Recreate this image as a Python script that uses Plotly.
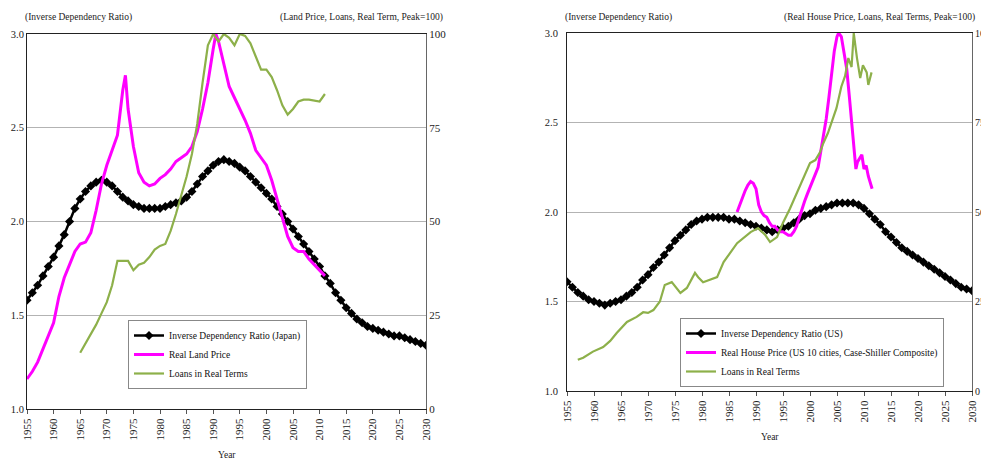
import plotly.graph_objects as go

FONT = "Liberation Serif, Times New Roman, serif"

# ---------------- Japan ----------------
jp_years = list(range(1955, 2031))
jp_idr = [1.58, 1.62, 1.66, 1.71, 1.76, 1.81, 1.87, 1.93, 2.00, 2.07,
          2.12, 2.16, 2.19, 2.21, 2.22, 2.21, 2.19, 2.16, 2.13, 2.11,
          2.09, 2.08, 2.07, 2.07, 2.07, 2.07, 2.08, 2.09, 2.10, 2.11,
          2.13, 2.16, 2.20, 2.24, 2.27, 2.30, 2.32, 2.33, 2.32, 2.31,
          2.29, 2.27, 2.24, 2.21, 2.18, 2.15, 2.12, 2.08, 2.04, 2.00,
          1.96, 1.92, 1.88, 1.84, 1.80, 1.76, 1.71, 1.67, 1.62, 1.58,
          1.54, 1.51, 1.48, 1.46, 1.44, 1.43, 1.42, 1.41, 1.40, 1.39,
          1.39, 1.38, 1.37, 1.36, 1.35, 1.34]

jp_land_years = [1955, 1956, 1957, 1958, 1959, 1960, 1961, 1962, 1963, 1964,
                 1965, 1966, 1967, 1968, 1969, 1970, 1971, 1972, 1973, 1973.5,
                 1974, 1975, 1976, 1977, 1978, 1979, 1980, 1981, 1982, 1983,
                 1984, 1985, 1986, 1987, 1988, 1989, 1990, 1990.5, 1991, 1992,
                 1993, 1994, 1995, 1996, 1997, 1998, 1999, 2000, 2001, 2002,
                 2003, 2004, 2005, 2006, 2007, 2008, 2009, 2010, 2011]
jp_land = [8, 10, 12.5, 16, 19.5, 23, 30, 35, 38.5, 42,
           44, 44.5, 47, 53, 60, 65, 69, 73, 85, 89,
           80, 70, 63, 60.5, 59.5, 60, 61.5, 62.5, 64, 66,
           67, 68, 70, 74, 80, 87, 96, 100, 98, 92,
           86, 83, 80, 77, 73.5, 69, 67, 65, 61, 56,
           51, 46, 43, 42, 42, 40, 38.5, 37, 35.5]

jp_loan_years = list(range(1965, 2012))
jp_loans = [15, 17.5, 20, 22.5, 25.5, 28.5, 33, 39.5, 39.5, 39.5,
            37, 38.5, 39, 40.5, 42.5, 43.5, 44, 47.5, 52, 57,
            62, 68, 76, 87, 97, 100, 98, 100, 99, 97,
            100, 99.5, 97.5, 94, 90.5, 90.5, 88.5, 85, 81, 78.5,
            80, 82, 82.5, 82.5, 82.3, 82, 84]

# ---------------- US ----------------
us_years = list(range(1955, 2031))
us_idr = [1.61, 1.58, 1.55, 1.53, 1.51, 1.50, 1.49, 1.48, 1.49, 1.50,
          1.51, 1.53, 1.55, 1.58, 1.62, 1.65, 1.69, 1.72, 1.76, 1.80,
          1.84, 1.87, 1.90, 1.93, 1.95, 1.96, 1.97, 1.97, 1.97, 1.97,
          1.96, 1.96, 1.95, 1.94, 1.93, 1.92, 1.91, 1.90, 1.89, 1.90,
          1.91, 1.92, 1.94, 1.96, 1.98, 1.99, 2.01, 2.02, 2.03, 2.04,
          2.05, 2.05, 2.05, 2.05, 2.04, 2.02, 1.99, 1.96, 1.93, 1.89,
          1.86, 1.83, 1.80, 1.78, 1.76, 1.74, 1.72, 1.70, 1.68, 1.66,
          1.64, 1.62, 1.60, 1.58, 1.57, 1.56]

us_house_years = [1986.5, 1987, 1987.5, 1988, 1988.5, 1989, 1989.5, 1990, 1990.5, 1991,
                  1991.5, 1992, 1992.5, 1993, 1993.5, 1994, 1994.5, 1995, 1995.5, 1996,
                  1996.5, 1997, 1997.5, 1998, 1998.5, 1999, 1999.5, 2000, 2000.5, 2001,
                  2001.5, 2002, 2002.5, 2003, 2003.5, 2004, 2004.5, 2005, 2005.3, 2005.8,
                  2006.3, 2006.8, 2007.3, 2007.8, 2008.2, 2008.5, 2008.8, 2009.2, 2009.6, 2010,
                  2010.4, 2010.8, 2011.2, 2011.5]
us_house = [50, 52, 54.5, 56, 57.5, 58.5, 58, 56.5, 52, 50,
            49, 48.5, 47, 46, 46, 45, 44.5, 44.5, 44, 43.5,
            43.5, 44.5, 46, 48.5, 51, 53, 55, 57, 59, 61,
            62.5, 67, 71, 76, 82, 88, 95, 99, 100, 99,
            95, 90, 82, 74, 66, 62, 64, 65, 66, 62,
            63, 60, 58, 56.5]

us_loan_years = [1957, 1958, 1959.8, 1961.7, 1963, 1964.2, 1966.1, 1967.9, 1969.1, 1970,
                 1971, 1972.2, 1973.1, 1974.4, 1976, 1977.2, 1978.7, 1979.3, 1980.2, 1982.8,
                 1984, 1986.5, 1989, 1990.4, 1991.7, 1992.6, 1993.9, 1995, 1996.3, 1998.2,
                 2000, 2001, 2001.9, 2002.4, 2003.3, 2004.9, 2005.8, 2006.5, 2007.1, 2007.7,
                 2008.1, 2008.7, 2009.3, 2009.8, 2010.5, 2010.8, 2011.4]
us_loans = [8.7, 9.3, 11, 12.3, 14, 16.2, 19.3, 20.7, 22, 21.8,
            22.6, 25, 29.6, 30.4, 27.4, 28.8, 33, 31.8, 30.4, 31.8,
            36, 41.3, 44.4, 45.5, 43.6, 41.6, 43, 47, 51, 57.5,
            63.7, 64.5, 66.8, 69, 72, 79, 85, 88, 93, 90.5,
            100, 93, 87.4, 91, 89, 85.5, 89]

x_ticks = list(range(1955, 2031, 5))

BLACK = "#000000"
MAGENTA = "#FF00FF"
GREEN = "#8DB04A"

fig = go.Figure()

def idr_trace(x, y, name, xa, ya, legend):
    return go.Scatter(x=x, y=y, name=name, xaxis=xa, yaxis=ya, legend=legend,
                      mode="lines+markers", line=dict(color=BLACK, width=2.5),
                      marker=dict(symbol="diamond", size=7, color=BLACK))

fig.add_trace(idr_trace(jp_years, jp_idr, "Inverse Dependency Ratio (Japan)", "x", "y", "legend"))
fig.add_trace(go.Scatter(x=jp_land_years, y=jp_land, name="Real Land Price", xaxis="x", yaxis="y2",
                         legend="legend", mode="lines", line=dict(color=MAGENTA, width=3)))
fig.add_trace(go.Scatter(x=jp_loan_years, y=jp_loans, name="Loans in Real Terms", xaxis="x", yaxis="y2",
                         legend="legend", mode="lines", line=dict(color=GREEN, width=2.2)))

fig.add_trace(idr_trace(us_years, us_idr, "Inverse Dependency Ratio (US)", "x2", "y3", "legend2"))
fig.add_trace(go.Scatter(x=us_house_years, y=us_house,
                         name="Real House Price (US 10 cities, Case-Shiller Composite)",
                         xaxis="x2", yaxis="y4", legend="legend2", mode="lines",
                         line=dict(color=MAGENTA, width=3)))
fig.add_trace(go.Scatter(x=us_loan_years, y=us_loans, name="Loans in Real Terms", xaxis="x2", yaxis="y4",
                         legend="legend2", mode="lines", line=dict(color=GREEN, width=2.2)))

# page body has an 8px margin; figure is sized to fill the rest of the window
OFF = 8
W, H = 989 - OFF, 464 - OFF

def px(x):
    return (x - OFF) / W

def py(y):
    return 1 - (y - OFF) / H

tickfont = dict(family=FONT, size=11, color="#222")

def xax(dom, anchor):
    return dict(domain=dom, anchor=anchor, range=[1955, 2030], tickvals=x_ticks,
                tickangle=-90, ticks="outside", ticklen=4, tickcolor="#555",
                showline=True, linecolor="#222", linewidth=1, mirror=True,
                showgrid=False, zeroline=False, tickfont=tickfont, automargin=False)

def yleft(dom, anchor, standoff):
    return dict(domain=dom, anchor=anchor, range=[1, 3], tickvals=[1, 1.5, 2, 2.5, 3],
                tickformat=".1f", showline=True, linecolor="#222", linewidth=1,
                showgrid=True, gridcolor="#b3b3b3", gridwidth=1, zeroline=False,
                tickfont=dict(family=FONT, size=10.5, color="#222"), ticks="",
                ticklabelstandoff=standoff, automargin=False)

def yright(over, anchor, size):
    return dict(overlaying=over, anchor=anchor, side="right", range=[0, 100],
                tickvals=[0, 25, 50, 75, 100], showline=True, linecolor="#666",
                showgrid=False, zeroline=False,
                tickfont=dict(family=FONT, size=size, color="#222"),
                ticks="", automargin=False)

d1 = [py(409), py(34)]
d2 = [py(391), py(33)]

legfont = dict(family=FONT, size=9.5, color="#111")

fig.update_layout(
    width=W, height=H,
    margin=dict(l=0, r=0, t=0, b=0),
    paper_bgcolor="white", plot_bgcolor="white",
    font=dict(family=FONT),
    xaxis=xax([px(27), px(426)], "y"),
    yaxis=yleft(d1, "x", 0),
    yaxis2=yright("y", "x", 11),
    xaxis2=xax([px(567), px(972)], "y3"),
    yaxis3=yleft(d2, "x2", 6),
    yaxis4=yright("y3", "x2", 10),
    legend=dict(x=px(128), y=py(320), xanchor="left", yanchor="top",
                bgcolor="white", bordercolor="#888", borderwidth=1,
                font=legfont, itemwidth=30, tracegroupgap=0),
    legend2=dict(x=px(680), y=py(318), xanchor="left", yanchor="top",
                 bgcolor="white", bordercolor="#888", borderwidth=1,
                 font=legfont, itemwidth=30, tracegroupgap=0),
    showlegend=True,
)

ann_font = dict(family=FONT, size=9.5, color="#222")
anns = [
    dict(text="(Inverse Dependency Ratio)", x=px(23), y=py(17), xanchor="left"),
    dict(text="(Land Price, Loans, Real Term, Peak=100)", x=px(445), y=py(17), xanchor="right"),
    dict(text="(Inverse Dependency Ratio)", x=px(563), y=py(17), xanchor="left"),
    dict(text="(Real House Price, Loans, Real Terms, Peak=100)", x=px(977), y=py(17), xanchor="right"),
    dict(text="Year", x=px(227), y=py(455), xanchor="center"),
    dict(text="Year", x=px(770), y=py(437), xanchor="center"),
]
for a in anns:
    fig.add_annotation(xref="paper", yref="paper", yanchor="middle", showarrow=False,
                       font=ann_font, **a)

fig.write_html("out.html")
